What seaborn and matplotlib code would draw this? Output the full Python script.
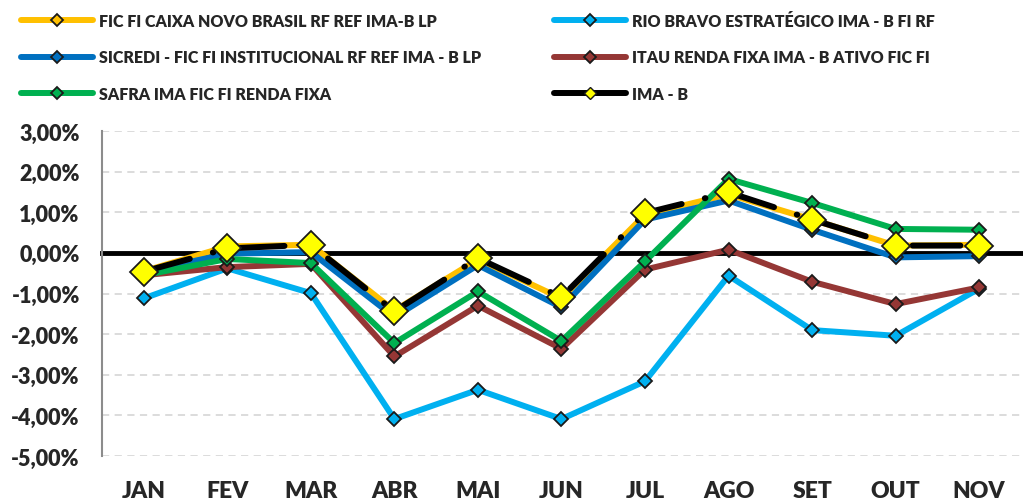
import numpy as np
import pandas as pd
import matplotlib
matplotlib.use("Agg")
import matplotlib.pyplot as plt
import seaborn as sns
from matplotlib.lines import Line2D
from matplotlib.ticker import FuncFormatter, MultipleLocator

# Monthly returns (%)
months = ['JAN', 'FEV', 'MAR', 'ABR', 'MAI', 'JUN', 'JUL', 'AGO', 'SET', 'OUT', 'NOV']
caixa = [-0.45, 0.16, 0.20, -1.42, -0.16, -1.12, 0.94, 1.44, 0.82, 0.18, 0.20]
sicredi = [-0.47, -0.02, 0.02, -1.58, -0.30, -1.34, 0.82, 1.29, 0.57, -0.11, -0.08]
rio = [-1.12, -0.38, -0.99, -4.09, -3.37, -4.09, -3.16, -0.56, -1.90, -2.04, -0.88]
itau = [-0.55, -0.35, -0.27, -2.55, -1.30, -2.36, -0.41, 0.08, -0.71, -1.26, -0.85]
safra = [-0.55, -0.15, -0.25, -2.22, -0.95, -2.17, -0.21, 1.82, 1.23, 0.59, 0.57]
imab = [-0.46, 0.11, 0.20, -1.44, -0.13, -1.09, 0.98, 1.49, 0.82, 0.18, 0.18]

names = ['FIC FI CAIXA NOVO BRASIL RF REF IMA-B LP',
         'SICREDI - FIC FI INSTITUCIONAL RF REF IMA - B LP',
         'SAFRA IMA FIC FI RENDA FIXA',
         'RIO BRAVO ESTRATÉGICO IMA - B FI RF',
         'ITAU RENDA FIXA IMA - B ATIVO FIC FI',
         'IMA - B']
colors = ['#FFC000', '#0070C0', '#00B050', '#00B0F0', '#953735', '#000000']
series = [caixa, sicredi, safra, rio, itau, imab]
zorders = [3, 4, 5, 2, 3.5, 6]

sns.set_style("white")
plt.rcParams['font.family'] = ['Lato', 'DejaVu Sans']
plt.rcParams['font.weight'] = 'bold'

fig = plt.figure(figsize=(10.23, 5.02), dpi=100)
ax = fig.add_axes([0.0997, 0.0896, 0.8983, 0.6474])

x = np.arange(len(months))
for name, vals, col, z in zip(names[:5], series[:5], colors[:5], zorders[:5]):
    sns.lineplot(x=x, y=vals, ax=ax, color=col, lw=4.3, marker='D',
                 markersize=7.5, markerfacecolor=col, markeredgecolor='#1a1a1a',
                 markeredgewidth=1.3, zorder=z, solid_capstyle='round')

sns.lineplot(x=x, y=imab, ax=ax, color='black', lw=4.3, marker='D',
             markersize=14, markerfacecolor='#FFFF00', markeredgecolor='#1a1a1a',
             markeredgewidth=1.3, zorder=6, linestyle=(0, (8, 4, 0.1, 4)),
             dash_capstyle='round')

ax.set_xlim(-0.5, 10.5)
ax.set_ylim(-5, 3)
ax.yaxis.set_major_locator(MultipleLocator(1))
ax.yaxis.set_major_formatter(FuncFormatter(lambda v, p: f"{v:.2f}%".replace('.', ',')))
ax.grid(axis='y', color='#D9D9D9', linestyle=(0, (4, 3)), lw=1.3, zorder=0)
ax.set_axisbelow(True)

for s in ['top', 'right']:
    ax.spines[s].set_visible(False)
ax.spines['left'].set_color('#8C8C8C')
ax.spines['left'].set_linewidth(1.5)
ax.spines['bottom'].set_position(('data', 0))
ax.spines['bottom'].set_color('black')
ax.spines['bottom'].set_linewidth(3.5)
ax.spines['bottom'].set_zorder(1.5)

ax.set_xticks([])
ax.set_xticks(np.arange(-0.5, 11, 1), minor=True)
ax.tick_params(axis='x', which='minor', direction='out', length=5, width=2.5,
               color='black', labelbottom=False)
ax.tick_params(axis='y', direction='out', length=6, width=1.3, color='#8C8C8C',
               labelsize=15.5, pad=10)
for lab in ax.get_yticklabels():
    lab.set_fontweight('heavy')

for i, m in enumerate(months):
    ax.text(i, -0.105, m, transform=ax.get_xaxis_transform(), ha='center', va='center',
            fontsize=16.5, fontweight='heavy')

handles = []
for name, col in zip(names, colors):
    if name == 'IMA - B':
        handles.append(Line2D([], [], color='black', lw=4.3, marker='D', markersize=6,
                              markerfacecolor='#FFFF00', markeredgecolor='#1a1a1a',
                              solid_capstyle='round'))
    else:
        handles.append(Line2D([], [], color=col, lw=4.3, marker='D', markersize=6,
                              markerfacecolor=col, markeredgecolor='#1a1a1a',
                              markeredgewidth=1.3, solid_capstyle='round'))

leg_kw = dict(loc='upper left', frameon=False, borderpad=0, borderaxespad=0,
              handlelength=4.5, handletextpad=0.35, labelspacing=1.3,
              prop={'size': 11.5, 'weight': 'heavy'})
leg1 = fig.legend(handles[:3], names[:3], bbox_to_anchor=(0.021, 0.973), **leg_kw)
leg2 = fig.legend(handles[3:], names[3:], bbox_to_anchor=(0.542, 0.973), **leg_kw)

fig.savefig("out.png", dpi=100)
